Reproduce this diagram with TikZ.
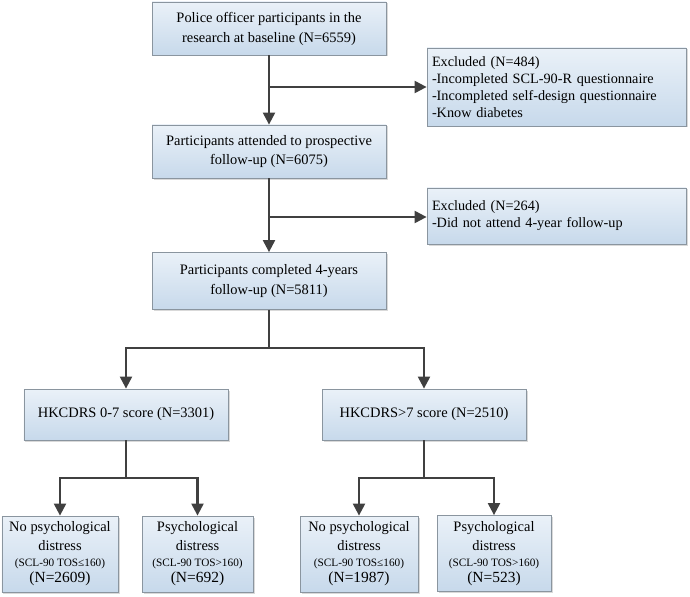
\documentclass[tikz,border=0pt]{standalone}
\usepackage{fontspec}
\setmainfont{Liberation Serif}
\usetikzlibrary{arrows.meta,shadows}
\definecolor{boxtop}{HTML}{EAF1F8}
\definecolor{boxbot}{HTML}{C7D9EB}
\definecolor{boxline}{HTML}{8A959F}
\definecolor{linecol}{HTML}{404040}
\tikzset{
  fbox/.style={draw=boxline, line width=0.8bp, top color=boxtop, bottom color=boxbot,
    drop shadow={shadow xshift=1.5bp, shadow yshift=-1.5bp, fill=black!25, opacity=0.6},
    align=center, inner sep=2bp, font=\fontsize{14.5}{20}\selectfont},
  exbox/.style={fbox, align=left, inner xsep=5bp, font=\fontsize{14.3}{17}\selectfont},
  conn/.style={draw=linecol, line width=2.2bp},
  arr/.style={conn, -{Triangle[length=12bp,width=12bp]}},
}
\newcommand{\smallsz}{\fontsize{11.3}{15}\selectfont}
\newcommand{\bignsz}{\fontsize{15.5}{17}\selectfont}
\begin{document}
\begin{tikzpicture}[x=1bp,y=-1bp]
\useasboundingbox (0,0) rectangle (690,597);
\node[fbox, minimum width=234bp, minimum height=53bp] (b1) at (269,28.5)
  {Police officer participants in the\\research at baseline (N=6559)};
\node[exbox, minimum width=259bp, minimum height=78bp, text width=249bp] (e1) at (556.5,87)
  {Excluded (N=484)\\-Incompleted SCL-90-R questionnaire\\-Incompleted self-design questionnaire\\-Know diabetes};
\node[fbox, minimum width=234bp, minimum height=53bp] (b2) at (269,151.5)
  {Participants attended to prospective\\follow-up (N=6075)};
\node[exbox, minimum width=259bp, minimum height=56bp, text width=249bp] (e2) at (556.5,216)
  {Excluded (N=264)\\-Did not attend 4-year follow-up};
\node[fbox, minimum width=234bp, minimum height=57bp] (b3) at (269,281)
  {Participants completed 4-years\\follow-up (N=5811)};
\node[fbox, minimum width=204bp, minimum height=51bp] (h1) at (126,414.5)
  {HKCDRS 0-7 score (N=3301)};
\node[fbox, minimum width=204bp, minimum height=51bp] (h2) at (424,414.5)
  {HKCDRS>7 score (N=2510)};
\node[fbox, minimum width=116bp, minimum height=76bp, font=\fontsize{14.5}{19}\selectfont] (c1) at (60,554)
  {No psychological\\distress\\[-3bp]{\smallsz(SCL-90 TOS≤160)}\\[-3bp]{\bignsz(N=2609)}};
\node[fbox, minimum width=111bp, minimum height=76bp, font=\fontsize{14.5}{19}\selectfont] (c2) at (197.5,554)
  {Psychological\\distress\\[-3bp]{\smallsz(SCL-90 TOS>160)}\\[-3bp]{\bignsz(N=692)}};
\node[fbox, minimum width=118bp, minimum height=76bp, font=\fontsize{14.5}{19}\selectfont] (c3) at (359,554)
  {No psychological\\distress\\[-3bp]{\smallsz(SCL-90 TOS≤160)}\\[-3bp]{\bignsz(N=1987)}};
\node[fbox, minimum width=114bp, minimum height=76bp, font=\fontsize{14.5}{19}\selectfont] (c4) at (494,553.5)
  {Psychological\\distress\\[-3bp]{\smallsz(SCL-90 TOS>160)}\\[-3bp]{\bignsz(N=523)}};
\coordinate (j1) at (269,87);
\coordinate (j2) at (269,217);
\coordinate (j3) at (269,348);
\coordinate (j4) at (126,478);
\coordinate (j5) at (424,478);
\draw[arr] (b1.south) -- (b2.north);
\draw[arr] (j1) -- (e1.west);
\draw[arr] (b2.south) -- (b3.north);
\draw[arr] (j2) -- (j2 -| e2.west);
\draw[conn] (b3.south) -- (j3);
\draw[arr] (j3) -| (h1.north);
\draw[arr] (j3) -| (h2.north);
\draw[conn] (h1.south) -- (j4);
\draw[arr] (j4) -| (c1.north);
\draw[arr] (j4) -| (c2.north);
\draw[conn] (h2.south) -- (j5);
\draw[arr] (j5) -| (c3.north);
\draw[arr] (j5) -| (c4.north);
\end{tikzpicture}
\end{document}
